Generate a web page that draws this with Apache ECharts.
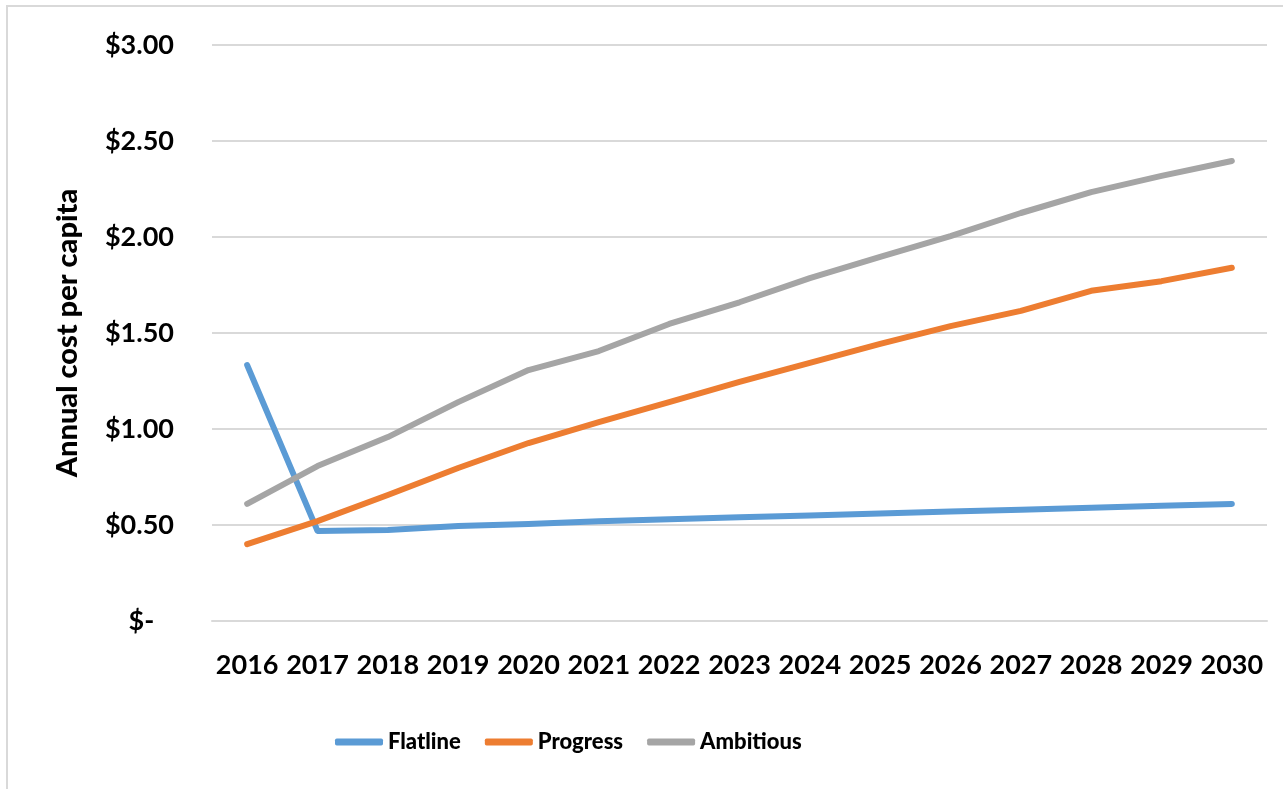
<!DOCTYPE html>
<html>
<head>
<meta charset="utf-8">
<script src="https://cdn.jsdelivr.net/npm/echarts@6/dist/echarts.min.js"></script>
<style>html,body{margin:0;padding:0;background:#fff;}#c{width:1283px;height:789px;}</style>
</head>
<body>
<div id="c"></div>
<script>
const years = ['2016','2017','2018','2019','2020','2021','2022','2023','2024','2025','2026','2027','2028','2029','2030'];
const flatline = [1.333,0.469,0.474,0.495,0.505,0.52,0.53,0.54,0.55,0.56,0.57,0.58,0.59,0.60,0.61];
const progress = [0.40,0.52,0.656,0.797,0.927,1.036,1.14,1.245,1.344,1.443,1.536,1.615,1.72,1.77,1.84];
const ambitious = [0.61,0.807,0.958,1.14,1.307,1.406,1.547,1.66,1.786,1.896,2.005,2.125,2.234,2.318,2.396];
const yTicks = {0:'$-   ',0.5:'$0.50',1:'$1.00',1.5:'$1.50',2:'$2.00',2.5:'$2.50',3:'$3.00'};

const font = 'Lato';
const chart = echarts.init(document.getElementById('c'), null, {renderer:'canvas'});
const mk = (name, data, color) => ({
  name, type:'line', data, symbol:'none', smooth:false,
  lineStyle:{color, width:6, cap:'round', join:'round'},
  itemStyle:{color}
});
chart.setOption({
  backgroundColor:'#fff',
  animation:false,
  graphic:[{type:'rect', shape:{x:7,y:6,width:1400,height:900}, style:{fill:'none', stroke:'#D9D9D9', lineWidth:2}, silent:true}],
  grid:{left:212, right:16, top:45, bottom:168, containLabel:false},
  legend:{
    left:330, top:726, itemWidth:48, itemHeight:7, itemGap:24, icon:'roundRect',
    textStyle:{fontFamily:font, fontWeight:900, fontSize:22, color:'#000'},
    data:['Flatline','Progress','Ambitious']
  },
  xAxis:{
    type:'category', data:years, boundaryGap:true,
    axisLine:{show:true, lineStyle:{color:'#D9D9D9', width:2}},
    axisTick:{show:false},
    axisLabel:{fontFamily:font, fontWeight:'bold', fontSize:27, color:'#000', margin:31, interval:0}
  },
  yAxis:{
    type:'value', min:0, max:3, interval:0.5,
    name:'Annual cost per capita', nameLocation:'middle', nameGap:130, nameRotate:90,
    nameTextStyle:{fontFamily:font, fontWeight:900, fontSize:29, color:'#000'},
    axisLine:{show:false}, axisTick:{show:false},
    splitLine:{lineStyle:{color:'#D9D9D9', width:2}},
    axisLabel:{fontFamily:font, fontWeight:'bold', fontSize:27, color:'#000', margin:38,
      formatter:v => yTicks[v] !== undefined ? yTicks[v] : ''}
  },
  series:[mk('Flatline', flatline, '#5B9BD5'), mk('Progress', progress, '#ED7D31'), mk('Ambitious', ambitious, '#A5A5A5')]
});
</script>
</body>
</html>
